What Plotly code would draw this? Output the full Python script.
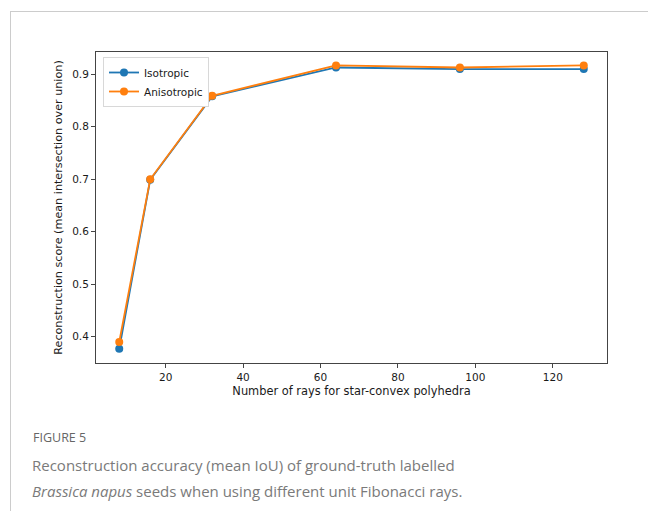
import plotly.graph_objects as go

rays = [8, 16, 32, 64, 96, 128]
isotropic = [0.377, 0.699, 0.858, 0.913, 0.910, 0.910]
anisotropic = [0.390, 0.700, 0.859, 0.917, 0.913, 0.917]
series_names = ["Isotropic", "Anisotropic"]
x_ticks = [20, 40, 60, 80, 100, 120]
y_ticks = [0.4, 0.5, 0.6, 0.7, 0.8, 0.9]

W, H = 648, 511
px = lambda v: v / W
py = lambda v: 1 - v / H

font_mpl = "DejaVu Sans"
fig = go.Figure()
for name, vals, col in [(series_names[0], isotropic, "#1f77b4"),
                        (series_names[1], anisotropic, "#ff7f0e")]:
    fig.add_trace(go.Scatter(x=rays, y=vals, name=name, mode="lines+markers",
                             line=dict(color=col, width=1.8),
                             marker=dict(color=col, size=8)))

fig.update_layout(
    width=W, height=H, margin=dict(l=0, r=0, t=0, b=0),
    paper_bgcolor="white", plot_bgcolor="white",
    font=dict(family=font_mpl, size=10.5, color="#1a1a1a"),
    showlegend=True,
    legend=dict(x=px(103), y=py(57), xanchor="left", yanchor="top",
                bgcolor="white", bordercolor="#d8d8d8", borderwidth=1,
                font=dict(size=10.5, family=font_mpl), tracegroupgap=0,
                itemwidth=30),
    xaxis=dict(domain=[px(96), px(607)], range=[2, 134], tickvals=x_ticks,
               showgrid=False, zeroline=False, showline=True, mirror=True,
               linecolor="#444", linewidth=1, ticks="outside", ticklen=4,
               tickcolor="#444",
               title=dict(text="Number of rays for star-convex polyhedra",
                          font=dict(size=11.4), standoff=5)),
    yaxis=dict(domain=[py(363), py(52)], range=[0.35, 0.9425], tickvals=y_ticks,
               tickformat=".1f",
               showgrid=False, zeroline=False, showline=True, mirror=True,
               linecolor="#444", linewidth=1, ticks="outside", ticklen=4,
               tickcolor="#444",
               title=dict(text="Reconstruction score (mean intersection over union)",
                          font=dict(size=11.2), standoff=7)),
)

# card border
fig.add_shape(type="line", xref="paper", yref="paper",
              x0=px(10), x1=1, y0=py(11.5), y1=py(11.5),
              line=dict(color="#cccccc", width=1))
fig.add_shape(type="line", xref="paper", yref="paper",
              x0=px(10.5), x1=px(10.5), y0=py(11.5), y1=0,
              line=dict(color="#cccccc", width=1))

cap_font = "Open Sans"
fig.add_annotation(xref="paper", yref="paper", x=px(31), y=py(437),
                   xanchor="left", yanchor="middle", showarrow=False,
                   text="FIGURE 5", font=dict(family=cap_font, size=12.5, color="#666"))
fig.add_annotation(xref="paper", yref="paper", x=px(30), y=py(465),
                   xanchor="left", yanchor="middle", showarrow=False,
                   text="Reconstruction accuracy (mean IoU) of ground-truth labelled",
                   font=dict(family=cap_font, size=15, color="#7a7a7a"))
fig.add_annotation(xref="paper", yref="paper", x=px(30), y=py(491),
                   xanchor="left", yanchor="middle", showarrow=False,
                   text="<i>Brassica napus</i> seeds when using different unit Fibonacci rays.",
                   font=dict(family=cap_font, size=15, color="#7a7a7a"))

fig.write_html("out.html", config={"displayModeBar": False},
               post_script="document.body.style.margin='0';document.body.style.overflow='hidden';")
